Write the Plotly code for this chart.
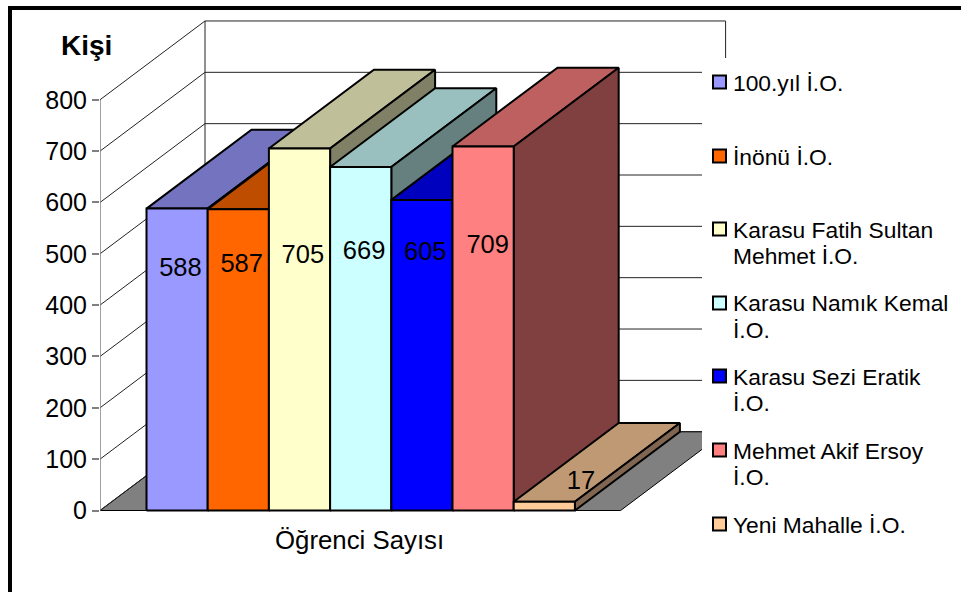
import plotly.graph_objects as go

# ---------- data ----------
schools = ["100.yıl İ.O.", "İnönü İ.O.", "Karasu Fatih Sultan<br>Mehmet İ.O.",
           "Karasu Namık Kemal<br>İ.O.", "Karasu Sezi Eratik<br>İ.O.",
           "Mehmet Akif Ersoy<br>İ.O.", "Yeni Mahalle İ.O."]
students = [588, 587, 705, 669, 605, 709, 17]
y_ticks = [0, 100, 200, 300, 400, 500, 600, 700, 800]

# ---------- styles ----------
front_colors = ["#9999FF", "#FF6600", "#FFFFCC", "#CCFFFF", "#0000FF", "#FF8080", "#FFCC99"]
top_colors = ["#7373BF", "#BF4D00", "#BFBF99", "#99BFBF", "#0000BF", "#BF6060", "#BF9973"]
side_colors = ["#4D4D80", "#803300", "#808066", "#668080", "#000080", "#804040", "#806650"]
# where Excel placed each value label, relative to the bar (value units / bar widths)
label_heights = [470, 477, 495, 503, 501, 514, 54]
label_x_shift = [0.055, 0.055, 0.055, 0.055, 0.055, 0.075, 0.6]

# ---------- geometry of the oblique projection ----------
W, H = 961, 592
PL, BASE_PX = 100, 510.5      # plot-area left edge and baseline, px
BAR_PX, X0_PX = 61.2, 146.5   # px per bar, left edge of the first bar
UNIT_PX = 0.5134              # px per value unit
DX = 105 / BAR_PX             # depth in bar widths
DY = 78.8 / UNIT_PX           # depth in value units
XMIN = (PL - X0_PX) / BAR_PX
XMAX = (W - X0_PX) / BAR_PX
YMIN = (BASE_PX - H) / UNIT_PX
YMAX = BASE_PX / UNIT_PX
FLOOR_R = len(students) + 45.7 / BAR_PX   # front right corner of the floor


def xpx(p):
    return (p - X0_PX) / BAR_PX


def ypx(p):
    return (BASE_PX - p) / UNIT_PX


def xp(p):
    return (p - PL) / (W - PL)


def yp(p):
    return (H - p) / H


fig = go.Figure()


def poly(xs, ys, fill, line="black", width=2.0, name=None):
    fig.add_trace(go.Scatter(x=xs + xs[:1], y=ys + ys[:1], mode="lines", fill="toself",
                             fillcolor=fill, line=dict(color=line, width=width),
                             hoverinfo="skip", showlegend=False, name=name))


def seg(xs, ys, color="#222222", width=1.0):
    fig.add_trace(go.Scatter(x=xs, y=ys, mode="lines", line=dict(color=color, width=width),
                             hoverinfo="skip", showlegend=False))


# floor
poly([XMIN, FLOOR_R, FLOOR_R + DX, XMIN + DX], [0, 0, DY, DY], "#808080", "black", 1)
# side wall and back wall grid
for t in y_ticks:
    seg([XMIN, XMIN + DX, FLOOR_R + DX], [t, t + DY, t + DY])
seg([XMIN, XMIN], [0, 800], "#808080", 1.5)
seg([XMIN + DX, XMIN + DX], [DY, 800 + DY])
seg([FLOOR_R + DX, FLOOR_R + DX], [DY, 800 + DY])
# white background of the legend, hides the end of the walls
poly([xpx(702), XMAX, XMAX, xpx(702)], [ypx(545), ypx(545), ypx(58), ypx(58)], "white", "white", 0)

# bars, painted from left to right
for i, v in enumerate(students):
    l, r = i, i + 1
    poly([l, l + DX, r + DX, r], [v, v + DY, v + DY, v], top_colors[i])
    poly([r, r + DX, r + DX, r], [0, DY, v + DY, v], side_colors[i])
    poly([l, r, r, l], [0, 0, v, v], front_colors[i], name=schools[i].replace("<br>", " "))

# value labels
fig.add_trace(go.Scatter(
    x=[i + 0.5 + s for i, s in enumerate(label_x_shift)], y=label_heights,
    text=[str(v) for v in students], mode="text", textposition="middle center",
    textfont=dict(family="Liberation Sans", size=25.5, color="black"),
    hoverinfo="skip", showlegend=False, cliponaxis=False))

# legend swatches and labels
legend_y = [82, 156, 229, 303, 376, 450, 524]
LINE_PX = 26
fig.add_trace(go.Scatter(
    x=[xpx(719.5)] * len(schools), y=[ypx(p) for p in legend_y], mode="markers",
    marker=dict(symbol="square", size=13, color=front_colors, line=dict(color="black", width=2)),
    hoverinfo="skip", showlegend=False, cliponaxis=False))

ann = []
for name, p in zip(schools, legend_y):
    for k, part in enumerate(name.split("<br>")):
        ann.append(dict(x=xp(732), y=yp(p + 0.5 + k * LINE_PX), xref="paper", yref="paper", text=part,
                        showarrow=False, xanchor="left", yanchor="middle", align="left",
                        borderpad=0, font=dict(family="Liberation Sans", size=22.8, color="black")))
ann.append(dict(x=xp(86), y=yp(45.5), xref="paper", yref="paper", text="<b>Kişi</b>", showarrow=False,
                xanchor="center", yanchor="middle", font=dict(family="Liberation Sans", size=28, color="black")))
ann.append(dict(x=xp(359.5), y=yp(540), xref="paper", yref="paper", text="Öğrenci Sayısı", showarrow=False,
                xanchor="center", yanchor="middle", font=dict(family="Liberation Sans", size=25.8, color="black")))

# picture frame: left and top black rules
shapes = [
    dict(type="rect", xref="paper", yref="paper", x0=xp(8), x1=xp(12), y0=yp(592), y1=yp(6),
         fillcolor="black", line=dict(width=0), layer="above"),
    dict(type="rect", xref="paper", yref="paper", x0=xp(8), x1=xp(961), y0=yp(10), y1=yp(6),
         fillcolor="black", line=dict(width=0), layer="above"),
]

fig.update_layout(
    width=W, height=H, autosize=False,
    margin=dict(l=PL, r=0, t=0, b=0, pad=0),
    paper_bgcolor="white", plot_bgcolor="white", showlegend=False,
    annotations=ann, shapes=shapes,
    xaxis=dict(visible=False, range=[XMIN, XMAX], fixedrange=True),
    yaxis=dict(range=[YMIN, YMAX], tickvals=y_ticks, ticks="outside", ticklen=7, tickwidth=1.5,
               tickcolor="#808080", showgrid=False, zeroline=False, showline=False,
               tickfont=dict(family="Liberation Sans", size=25, color="black"), fixedrange=True),
)

fig.write_html("out.html", config=dict(displayModeBar=False),
               post_script="document.body.style.margin='0';document.body.style.overflow='hidden';")
